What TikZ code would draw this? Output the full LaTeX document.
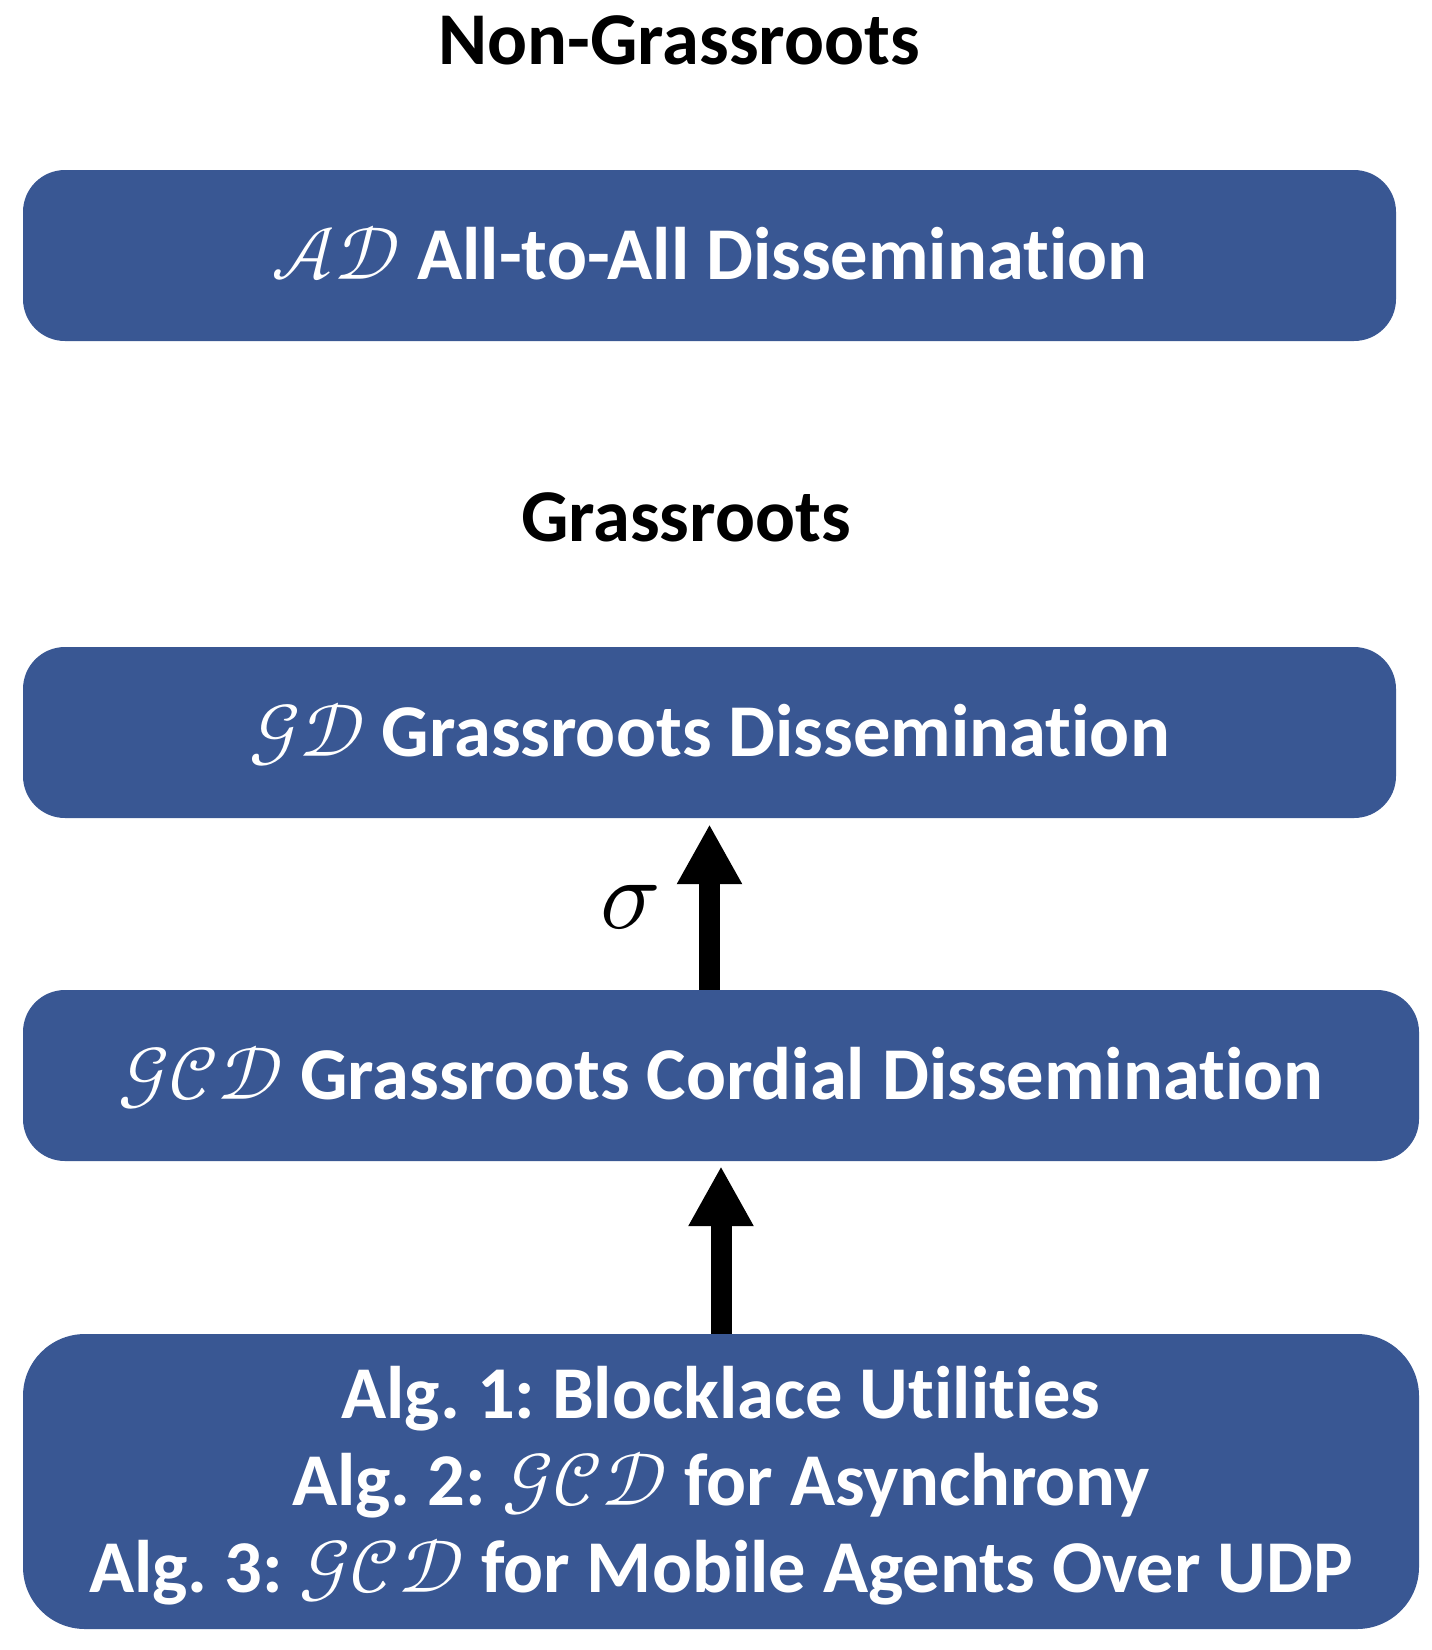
\documentclass[tikz,border=0pt]{standalone}
\usepackage{fontspec}
\usepackage{unicode-math}
\setmainfont{Carlito}[Ligatures=NoCommon]
\setmathfont{Latin Modern Math}
\usetikzlibrary{arrows.meta}
\definecolor{boxblue}{RGB}{57,87,147}
\frenchspacing
\tikzset{
  box/.style={fill=boxblue, text=white, rounded corners=42pt, inner sep=0pt,
    font=\fontsize{74.5}{87}\selectfont\bfseries, text height=48pt, text depth=0pt},
  heading/.style={font=\fontsize{74.5}{87}\selectfont\bfseries, inner sep=0pt},
  uparrow/.style={line width=21pt, -{Triangle[width=61pt,length=60pt]}},
}
\begin{document}
\begin{tikzpicture}[x=1pt,y=-1pt]
\useasboundingbox (0,0) rectangle (1432,1650);
\node[heading] (ng) at (679,40) {Non-Grassroots};
\node[box, minimum width=1373pt, minimum height=171pt] (ad) at (709.5,255.5)
  {$\mathcal{AD}$ All-to-All Dissemination};
\node[heading] (gr) at (686,517) {Grassroots};
\node[box, minimum width=1373pt, minimum height=171pt] (gd) at (709.5,732.5)
  {$\mathcal{GD}$ Grassroots Dissemination};
\node[box, minimum width=1396pt, minimum height=171pt] (gcd) at (721,1075.5)
  {$\mathcal{GCD}$ Grassroots Cordial Dissemination};
\node[box, rounded corners=62pt, align=center, minimum width=1396pt, minimum height=295pt,
  text height=222pt] (alg) at (721,1481.5)
  {Alg. 1: Blocklace Utilities\\
   Alg. 2: $\mathcal{GCD}$ for Asynchrony\\
   Alg. 3: $\mathcal{GCD}$ for Mobile Agents Over UDP};
\draw[uparrow, shorten >=6pt] (gd.south |- gcd.north) -- (gd.south);
\node[font=\fontsize{100}{110}\selectfont, inner sep=0pt] (sigma) at (630,907) {$\sigma$};
\draw[uparrow, shorten >=5pt] (alg.north) -- (gcd.south);
\end{tikzpicture}
\end{document}
